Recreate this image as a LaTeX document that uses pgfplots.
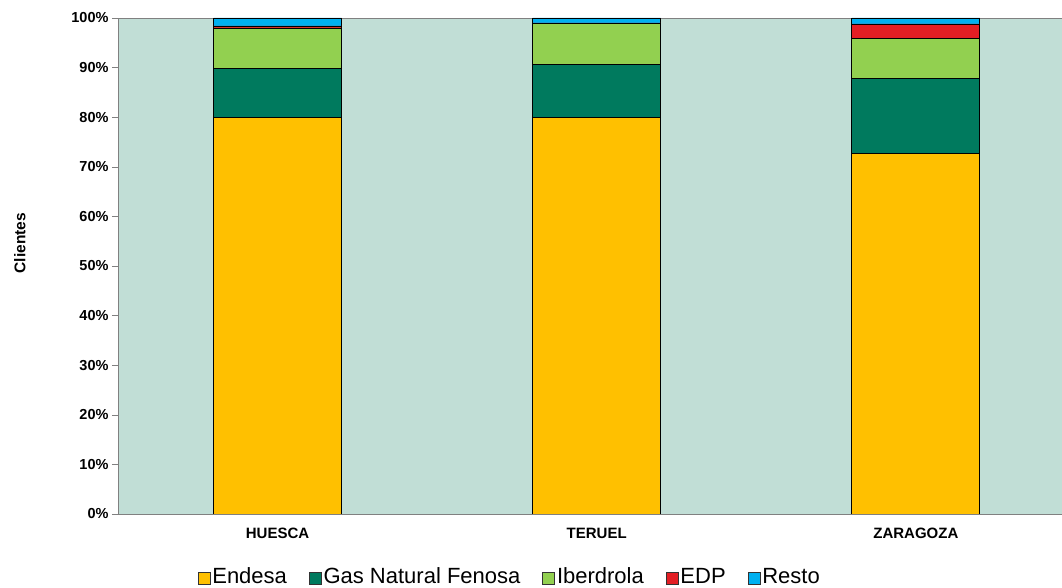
\documentclass[border=0pt]{standalone}
\usepackage{pgfplots}
\pgfplotsset{compat=1.18}
\usepackage{fontspec}
\setmainfont{Liberation Sans}

\definecolor{endesa}{RGB}{255,192,0}
\definecolor{gnf}{RGB}{0,122,94}
\definecolor{iber}{RGB}{146,208,80}
\definecolor{edp}{RGB}{227,30,36}
\definecolor{resto}{RGB}{0,176,240}
\definecolor{plotbg}{RGB}{193,222,214}

\begin{document}
\begin{tikzpicture}
\path[use as bounding box] (-118pt,-74pt) rectangle (944pt,514pt);
\begin{axis}[
    scale only axis,
    width=944pt, height=496pt,
    ybar stacked,
    bar width=128pt,
    xmin=-0.5, xmax=2.458,
    ymin=0, ymax=100,
    axis background/.style={fill=plotbg},
    axis line style={gray},
    xtick={0,1,2},
    xticklabels={HUESCA,TERUEL,ZARAGOZA},
    x tick label style={font=\fontsize{15}{17}\selectfont\bfseries, yshift=-4pt, text height=11pt, text depth=0pt},
    major x tick style={draw=none},
    extra x ticks={0.5,1.5},
    extra x tick labels={},
    extra x tick style={major tick length=6pt, tick align=outside, tick style={gray}},
    ytick={0,10,...,100},
    yticklabel={\pgfmathprintnumber{\tick}\%},
    y tick label style={font=\fontsize{14.5}{16}\selectfont\bfseries, /pgf/number format/assume math mode=true},
    ytick style={gray},
    tick align=outside,
    major tick length=6pt,
    ylabel={Clientes},
    ylabel style={font=\fontsize{15.5}{18}\selectfont\bfseries, at={(axis description cs:-0.104,0.546)}, anchor=center},
    legend columns=5,
    legend style={draw=none, fill=none, at={(axis description cs:0.415,-0.129)}, anchor=center,
        font=\fontsize{22}{24}\selectfont, nodes={text height=16pt, text depth=5pt},
        /tikz/every even column/.append style={column sep=20pt}},
    legend image code/.code={\draw[#1,draw=black!80,line width=0.6pt] (0pt,-6pt) rectangle (12pt,6pt);},
    every axis plot/.append style={draw=black, line width=0.8pt},
]
\addplot[fill=endesa] coordinates {(0,80.0) (1,80.0) (2,72.6)};
\addplot[fill=gnf] coordinates {(0,9.8) (1,10.7) (2,15.3)};
\addplot[fill=iber] coordinates {(0,8.2) (1,8.2) (2,7.9)};
\addplot[fill=edp] coordinates {(0,0.4) (1,0.1) (2,3.0)};
\addplot[fill=resto] coordinates {(0,1.6) (1,1.0) (2,1.2)};
\legend{Endesa,Gas Natural Fenosa,Iberdrola,EDP,Resto}
\end{axis}
\end{tikzpicture}
\end{document}
